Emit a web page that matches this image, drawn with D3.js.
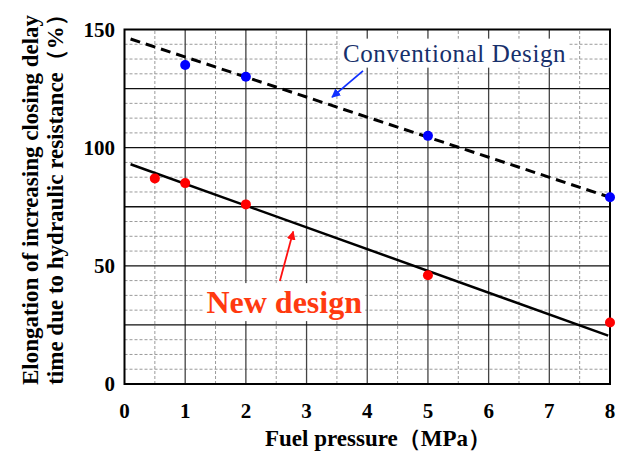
<!DOCTYPE html>
<html>
<head>
<meta charset="utf-8">
<script src="https://cdn.jsdelivr.net/npm/d3@7"></script>
<style>
  body { margin: 0; background: #fff; }
  svg { display: block; }
  text { font-family: "Liberation Serif", "Times New Roman", serif; }
</style>
</head>
<body>
<div id="chart"></div>
<script>
// data
const convX = [1, 2, 5, 8];
const convY = [135, 130, 105, 79];
const newX = [0.5, 1, 2, 5, 8];
const newY = [87, 85, 76, 46, 26];
// straight fit lines, end points
const convFitX = [0.1, 8];
const convFitY = [146, 79];
const newFitX = [0.1, 7.97];
const newFitY = [93, 20.5];

const xTicks = [0, 1, 2, 3, 4, 5, 6, 7, 8];
const yTicks = [0, 50, 100, 150];

const width = 623, height = 453;

const svg = d3.select('#chart').append('svg')
  .attr('width', width)
  .attr('height', height);

const x = d3.scaleLinear().domain([0, 8]).range([124.5, 610]);
const y = d3.scaleLinear().domain([0, 150]).range([384, 29.5]);

// ----- grid -----
const grid = svg.append('g');

// minor dashed lines
grid.selectAll('.vminor')
  .data(d3.range(0.5, 8, 1))
  .join('line')
  .attr('x1', d => x(d)).attr('x2', d => x(d))
  .attr('y1', y(0)).attr('y2', y(150))
  .attr('stroke', '#9a9a9a').attr('stroke-dasharray', '3,2').attr('stroke-width', 1);

grid.selectAll('.hminor')
  .data(d3.range(0, 150, 6.25).filter(d => d % 25 !== 0))
  .join('line')
  .attr('x1', x(0)).attr('x2', x(8))
  .attr('y1', d => y(d)).attr('y2', d => y(d))
  .attr('stroke', '#9a9a9a').attr('stroke-dasharray', '3,2').attr('stroke-width', 1);

// major lines
grid.selectAll('.vmajor')
  .data(d3.range(1, 8))
  .join('line')
  .attr('x1', d => x(d)).attr('x2', d => x(d))
  .attr('y1', y(0)).attr('y2', y(150))
  .attr('stroke', '#444').attr('stroke-width', 1.3);

grid.selectAll('.hmajor')
  .data(d3.range(25, 150, 25))
  .join('line')
  .attr('x1', x(0)).attr('x2', x(8))
  .attr('y1', d => y(d)).attr('y2', d => y(d))
  .attr('stroke', '#111').attr('stroke-width', 1.3);

// frame
svg.append('rect')
  .attr('x', x(0)).attr('y', y(150))
  .attr('width', x(8) - x(0)).attr('height', y(0) - y(150))
  .attr('fill', 'none').attr('stroke', '#000').attr('stroke-width', 2);

// ----- tick labels -----
svg.append('g').selectAll('text')
  .data(xTicks)
  .join('text')
  .attr('x', d => x(d)).attr('y', 418)
  .attr('text-anchor', 'middle')
  .attr('font-weight', 'bold').attr('font-size', 21)
  .text(d => d);

svg.append('g').selectAll('text')
  .data(yTicks)
  .join('text')
  .attr('x', 115).attr('y', d => y(d) + 7)
  .attr('text-anchor', 'end')
  .attr('font-weight', 'bold').attr('font-size', 21)
  .text(d => d);

// axis titles
svg.append('text')
  .attr('x', 378).attr('y', 446)
  .attr('text-anchor', 'middle')
  .attr('font-weight', 'bold').attr('font-size', 23)
  .text('Fuel pressure（MPa）');

const yt = svg.append('g')
  .attr('transform', 'translate(0,200) rotate(-90)');
yt.append('text')
  .attr('x', 0).attr('y', 38)
  .attr('text-anchor', 'middle')
  .attr('font-weight', 'bold').attr('font-size', 23)
  .text('Elongation of increasing closing delay');
yt.append('text')
  .attr('x', 6).attr('y', 63)
  .attr('text-anchor', 'middle')
  .attr('font-weight', 'bold').attr('font-size', 23)
  .text('time due to hydraulic resistance（%）');

// ----- fit lines -----
const line = d3.line().x(d => x(d[0])).y(d => y(d[1]));

svg.append('path')
  .datum(d3.zip(convFitX, convFitY))
  .attr('d', line)
  .attr('fill', 'none').attr('stroke', '#000')
  .attr('stroke-width', 3).attr('stroke-dasharray', '10,6');

svg.append('path')
  .datum(d3.zip(newFitX, newFitY))
  .attr('d', line)
  .attr('fill', 'none').attr('stroke', '#000')
  .attr('stroke-width', 2.5);

// ----- points -----
svg.append('g').selectAll('circle')
  .data(d3.zip(convX, convY))
  .join('circle')
  .attr('cx', d => x(d[0])).attr('cy', d => y(d[1]))
  .attr('r', 5).attr('fill', '#0000ff');

svg.append('g').selectAll('circle')
  .data(d3.zip(newX, newY))
  .join('circle')
  .attr('cx', d => x(d[0])).attr('cy', d => y(d[1]))
  .attr('r', 5).attr('fill', '#ff0000');

// ----- annotations -----
const defs = svg.append('defs');
function marker(id, color) {
  defs.append('marker')
    .attr('id', id)
    .attr('viewBox', '0 0 10 10')
    .attr('refX', 9).attr('refY', 5)
    .attr('markerWidth', 5).attr('markerHeight', 5)
    .attr('orient', 'auto')
    .append('path')
    .attr('d', 'M0,0 L10,5 L0,10 z')
    .attr('fill', color);
}
marker('arrBlue', '#1030ff');
marker('arrRed', '#ff1010');

function label(tx, ty, text, size, weight, spacing, color) {
  const t = svg.append('text')
    .attr('x', x(tx)).attr('y', y(ty))
    .attr('font-size', size).attr('font-weight', weight)
    .attr('letter-spacing', spacing)
    .attr('fill', color)
    .text(text);
  const b = t.node().getBBox();
  svg.insert('rect', () => t.node())
    .attr('x', b.x - 3).attr('y', b.y - 1)
    .attr('width', b.width + 6).attr('height', b.height + 2)
    .attr('fill', '#fff');
}

label(3.6, 136.4, 'Conventional Design', 25, 'normal', 0.6, '#17306b');
label(1.35, 30, 'New design', 32, 'bold', 0, '#ff3a10');

svg.append('line')
  .attr('x1', x(3.93)).attr('y1', y(132.5))
  .attr('x2', x(3.42)).attr('y2', y(121.4))
  .attr('stroke', '#1030ff').attr('stroke-width', 1.8)
  .attr('marker-end', 'url(#arrBlue)');

svg.append('line')
  .attr('x1', x(2.56)).attr('y1', y(43.6))
  .attr('x2', x(2.78)).attr('y2', y(64.5))
  .attr('stroke', '#ff1010').attr('stroke-width', 1.8)
  .attr('marker-end', 'url(#arrRed)');
</script>
</body>
</html>
